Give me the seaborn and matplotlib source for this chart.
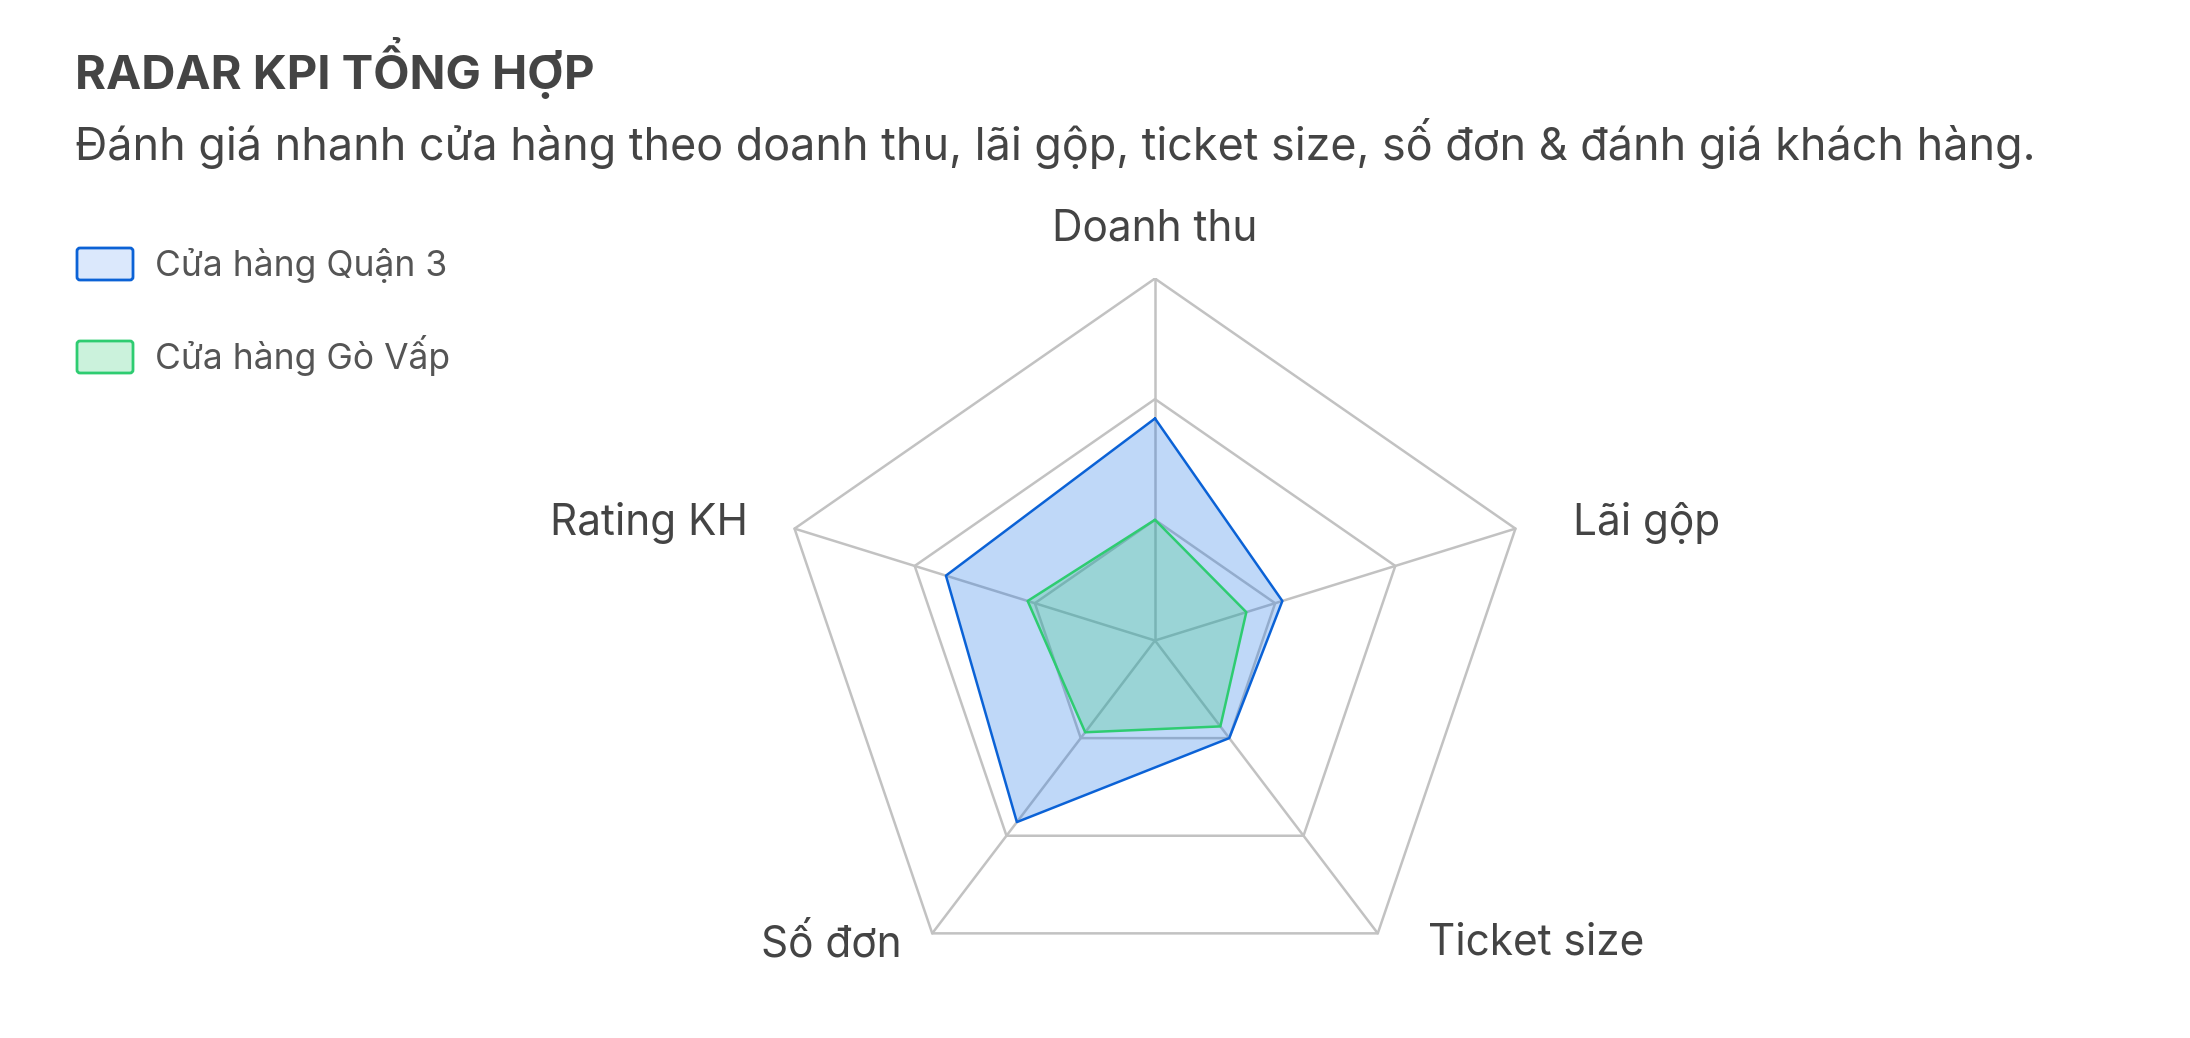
import numpy as np
import matplotlib
matplotlib.use("Agg")
import matplotlib.pyplot as plt
from matplotlib.patches import FancyBboxPatch
import seaborn as sns

# ---------------- data ----------------
categories = ["Doanh thu", "Lãi gộp", "Ticket size", "Số đơn", "Rating KH"]
quan3 = [92, 53, 50, 93, 87]
govap = [50, 38, 44, 47, 53]
series_names = ["Cửa hàng Quận 3", "Cửa hàng Gò Vấp"]
ring_ticks = [50, 100, 150]
title = "RADAR KPI TỔNG HỢP"
subtitle = "Đánh giá nhanh cửa hàng theo doanh thu, lãi gộp, ticket size, số đơn & đánh giá khách hàng."

W, H = 2190, 1038
sns.set_theme(style="white")
plt.rcParams["font.family"] = ["Inter", "DejaVu Sans"]

BLUE_LINE, BLUE_FILL, BLUE_SWATCH = "#0b62d6", "#1a73e8", "#dbe8fc"
GREEN_LINE, GREEN_FILL, GREEN_SWATCH = "#2ecc71", "#2ecc71", "#cbf2dc"
GRID = "#c2c2c2"
TXT = "#444444"

fig = plt.figure(figsize=(W / 100, H / 100), dpi=100)

# page overlay in pixel coords (y down)
page = fig.add_axes([0, 0, 1, 1])
page.set_xlim(0, W)
page.set_ylim(H, 0)
page.axis("off")

# radar axes, slightly wider than tall like the reference
cx, cy, rx, ry = 1155, 640.5, 379, 362
vmax = ring_ticks[-1]
radar = fig.add_axes([(cx - rx) / W, (H - cy - ry) / H, 2 * rx / W, 2 * ry / H])

n = len(categories)
ang = np.pi / 2 - 2 * np.pi * np.arange(n) / n
ux, uy = np.cos(ang), np.sin(ang)


def closed(vals):
    vals = np.asarray(vals, dtype=float)
    x = ux * vals
    y = uy * vals
    return np.append(x, x[0]), np.append(y, y[0])


# grid rings + spokes
for t in ring_ticks:
    gx, gy = closed([t] * n)
    radar.plot(gx, gy, color=GRID, lw=1.8, zorder=1)
for i in range(n):
    radar.plot([0, ux[i] * vmax], [0, uy[i] * vmax], color=GRID, lw=1.8, zorder=1)

# series
for vals, lc, fc, a, z in [(quan3, BLUE_LINE, BLUE_FILL, 0.28, 2),
                           (govap, GREEN_LINE, GREEN_FILL, 0.25, 4)]:
    px, py = closed(vals)
    radar.fill(px, py, color=fc, alpha=a, lw=0, zorder=z)
    sns.lineplot(x=px, y=py, sort=False, estimator=None, color=lc, lw=1.8,
                 ax=radar, zorder=z + 1)

radar.set_xlim(-vmax, vmax)
radar.set_ylim(-vmax, vmax)
radar.axis("off")

# point labels
outer_x = cx + ux * rx
outer_y = cy - uy * ry
label_style = [
    (0, -38, "center"),
    (58, 6, "left"),
    (50, 21, "left"),
    (-31, 23, "right"),
    (-47, 6, "right"),
]
for i, (dx, dy, ha) in enumerate(label_style):
    page.text(outer_x[i] + dx, outer_y[i] + dy, categories[i], fontsize=30.5,
              color=TXT, ha=ha, va="baseline")

# title + subtitle
page.text(75, 89, title, fontsize=34, fontweight="bold", color=TXT,
          ha="left", va="baseline")
page.text(75, 160, subtitle, fontsize=32.3, color=TXT, ha="left", va="baseline")

# legend
for (name, edge, face), base in zip(
        [(series_names[0], BLUE_LINE, BLUE_SWATCH),
         (series_names[1], GREEN_LINE, GREEN_SWATCH)], [276, 369]):
    box = FancyBboxPatch((77, base - 28), 56, 32,
                         boxstyle="round,pad=0,rounding_size=3",
                         facecolor=face, edgecolor=edge, lw=2)
    page.add_patch(box)
    page.text(155, base, name, fontsize=25.5, color="#555555",
              ha="left", va="baseline")

fig.savefig("out.png", dpi=100, facecolor="white")
